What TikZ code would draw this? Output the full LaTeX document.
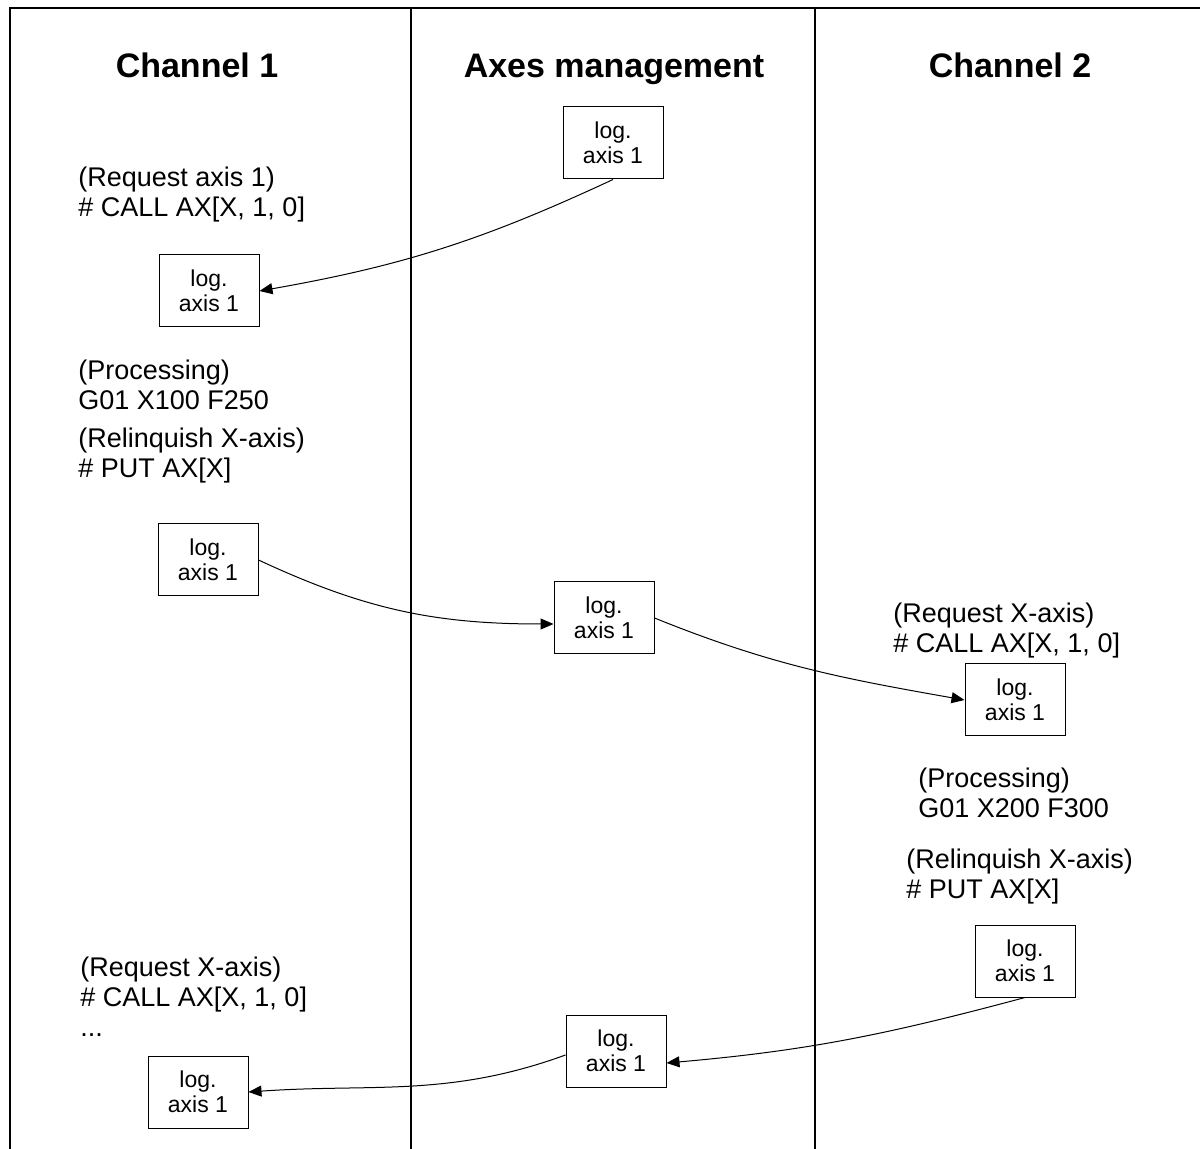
\documentclass[tikz,border=0pt]{standalone}
\usepackage{fontspec}
\setmainfont{Liberation Sans}
\usetikzlibrary{arrows.meta, positioning}

\begin{document}
\begin{tikzpicture}[x=0.5pt, y=0.5pt,
    lane/.style={line width=1.3pt},
    head/.style={anchor=base, font=\fontsize{17}{20}\selectfont\bfseries},
    axisbox/.style={draw, line width=0.5pt, minimum width=50pt, minimum height=36pt,
                    align=center, inner sep=0pt, font=\fontsize{11.5}{12.5}\selectfont},
    note/.style={anchor=west, align=left, inner sep=0pt, font=\fontsize{13.5}{15}\selectfont},
    handover/.style={-{Triangle[length=6.5pt,width=5.5pt]}, line width=0.5pt}]
  \useasboundingbox (0,0) rectangle (1200,-1149);

  % lanes
  \draw[lane] (10,-1149) -- (10,-8) -- (1200,-8);
  \draw[lane] (411,-8) -- (411,-1149);
  \draw[lane] (815,-8) -- (815,-1149);

  \node[head] (ch1)  at (197,-78)  {Channel 1};
  \node[head] (mgmt) at (614,-78)  {Axes management};
  \node[head] (ch2)  at (1010,-78) {Channel 2};

  % channel 1
  \node[note] (req1)  at (78,-195) {(Request axis 1)\\\# CALL AX[X, 1, 0]};
  \node[note] (proc1) at (78,-385) {(Processing)\\G01 X100 F250};
  \node[note] (rel1)  at (78,-456) {(Relinquish X-axis)\\\# PUT AX[X]};
  \node[note] (req3)  at (80,-997) {(Request X-axis)\\\# CALL AX[X, 1, 0]\\...};

  % channel 2
  \node[note] (req2)  at (893,-631) {(Request X-axis)\\\# CALL AX[X, 1, 0]};
  \node[note] (proc2) at (918,-793) {(Processing)\\G01 X200 F300};
  \node[note] (rel2)  at (906,-877) {(Relinquish X-axis)\\\# PUT AX[X]};

  % logical axis
  \node[axisbox] (ax1) at (613,-143)  {log.\\axis 1};
  \node[axisbox] (ax2) at (209,-291)  {log.\\axis 1};
  \node[axisbox] (ax3) at (208,-560)  {log.\\axis 1};
  \node[axisbox] (ax4) at (604,-618)  {log.\\axis 1};
  \node[axisbox] (ax5) at (1015,-700) {log.\\axis 1};
  \node[axisbox] (ax6) at (1025,-961) {log.\\axis 1};
  \node[axisbox] (ax7) at (616,-1051) {log.\\axis 1};
  \node[axisbox] (ax8) at (198,-1092) {log.\\axis 1};

  \draw[handover] (ax1.south) to[out=205, in=10] (ax2.east);
  \draw[handover] (ax3.east) to[out=-25, in=180] ([yshift=-3pt]ax4.west);
  \draw[handover] (ax4.east) to[out=-22, in=170] (ax5.west);
  \draw[handover] (ax6.south) to[out=195, in=5] ([yshift=-6pt]ax7.east);
  \draw[handover] ([yshift=-2pt]ax7.west) to[out=200, in=4] (ax8.east);
\end{tikzpicture}
\end{document}
